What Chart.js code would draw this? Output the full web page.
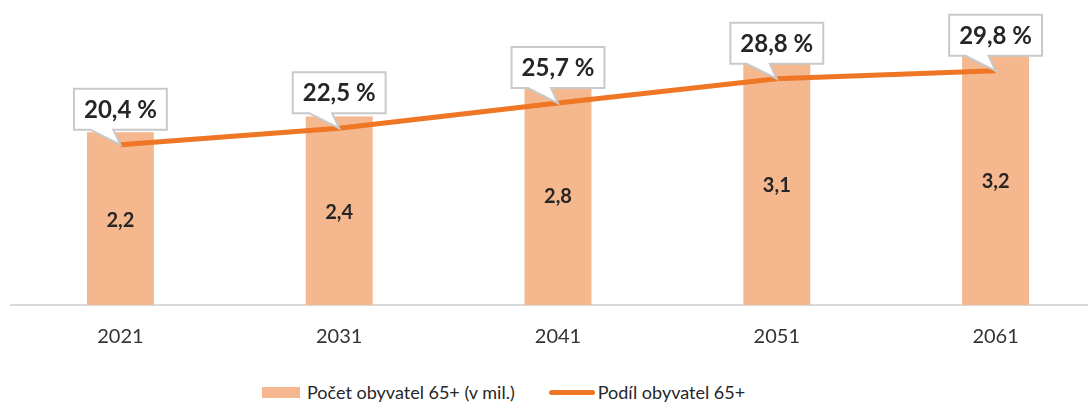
<!DOCTYPE html>
<html>
<head>
<meta charset="utf-8">
<script src="https://cdn.jsdelivr.net/npm/chart.js@4/dist/chart.umd.min.js"></script>
<style>
  html, body { margin: 0; padding: 0; background: #fff; overflow: hidden; }
  #wrap { position: absolute; left: 0; top: 0; width: 1110px; height: 379px; }
  #legend { position: absolute; top: 380px; left: 262px; height: 24px; display: flex; align-items: center;
            font-family: Lato, sans-serif; font-size: 18px; line-height: 24px; color: #262626; white-space: nowrap; }
  #legend .bar { display: inline-block; width: 38px; height: 11px; background: #F5B78E; margin-right: 7px; }
  #legend .line { display: inline-block; width: 46px; height: 5px; border-radius: 3px; background: #EE7624; margin: 0 3px 0 34px; }
</style>
</head>
<body>
<div id="wrap"><canvas id="chart"></canvas></div>
<div id="legend">
  <span class="bar"></span><span>Počet obyvatel 65+ (v mil.)</span><span class="line"></span><span>Podíl obyvatel 65+</span>
</div>
<script>
var years = ["2021", "2031", "2041", "2051", "2061"];
var seniorsMil = [2.2, 2.4, 2.8, 3.1, 3.2];
var seniorsShare = [20.4, 22.5, 25.7, 28.8, 29.8];

function czNum(v) {
    return v.toFixed(1).replace(".", ",");
}

// values inside the bars + white callouts above the line points
var labelPlugin = {
    id: "labels",
    afterDraw: function (chart) {
        var ctx = chart.ctx;
        ctx.save();

        var bars = chart.getDatasetMeta(1).data;
        ctx.font = "bold 20px Lato";
        ctx.fillStyle = "#262626";
        ctx.textAlign = "center";
        ctx.textBaseline = "middle";
        bars.forEach(function (b, i) {
            ctx.fillText(czNum(seniorsMil[i]), b.x, (b.y + b.base) / 2 + 2);
        });

        var pts = chart.getDatasetMeta(0).data;
        ctx.font = "bold 24px Lato";
        pts.forEach(function (p, i) {
            var txt = czNum(seniorsShare[i]) + " %";
            var w = ctx.measureText(txt).width + 20;
            var h = 41;
            var cx = p.x;
            var bottom = p.y - 15;
            var left = cx - w / 2, top = bottom - h;
            ctx.beginPath();
            ctx.moveTo(left, top);
            ctx.lineTo(left + w, top);
            ctx.lineTo(left + w, bottom);
            ctx.lineTo(cx - 7, bottom);
            ctx.lineTo(p.x, p.y);
            ctx.lineTo(cx - 30, bottom);
            ctx.lineTo(left, bottom);
            ctx.closePath();
            ctx.fillStyle = "#fff";
            ctx.fill();
            ctx.strokeStyle = "#C9C9C9";
            ctx.lineWidth = 2;
            ctx.stroke();
            ctx.fillStyle = "#262626";
            ctx.fillText(txt, cx, top + h / 2 + 1);
        });
        ctx.restore();
    }
};

var ctx = document.getElementById("chart").getContext("2d");
var chart = new Chart(ctx, {
    data: {
        labels: years,
        datasets: [{
            type: "line",
            label: "Podíl obyvatel 65+",
            data: seniorsShare,
            yAxisID: "y2",
            borderColor: "#EE7624",
            borderWidth: 5,
            pointRadius: 0,
            tension: 0,
            order: 1
        }, {
            type: "bar",
            label: "Počet obyvatel 65+ (v mil.)",
            data: seniorsMil,
            yAxisID: "y",
            backgroundColor: "#F5B78E",
            barPercentage: 1,
            categoryPercentage: 0.306,
            order: 2
        }]
    },
    options: {
        responsive: true,
        maintainAspectRatio: false,
        animation: false,
        layout: {
            padding: { top: 30, left: 11, right: 5, bottom: 10 }
        },
        plugins: {
            legend: { display: false },
            tooltip: { enabled: false }
        },
        scales: {
            x: {
                grid: { display: false, drawTicks: false },
                border: { display: true, color: "#D9D9D9", width: 2 },
                ticks: {
                    color: "#333",
                    padding: 20,
                    font: { family: "Lato", size: 20 }
                }
            },
            y: { display: false, min: 0, max: 3.5 },
            y2: { display: false, min: 0, max: 35 }
        }
    },
    plugins: [labelPlugin]
});
</script>
</body>
</html>
